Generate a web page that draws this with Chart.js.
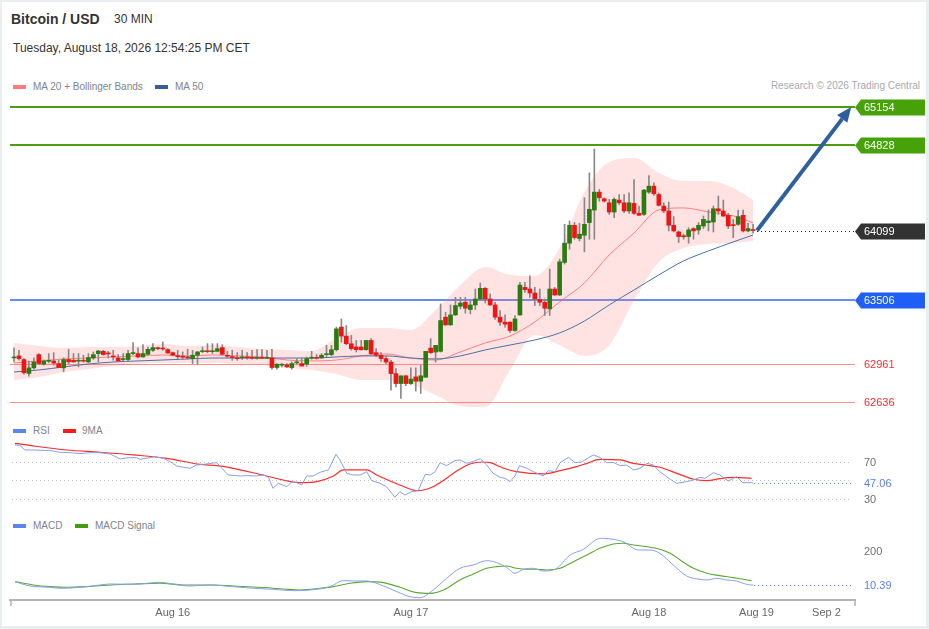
<!DOCTYPE html>
<html lang="en">
<head>
<meta charset="utf-8">
<title>Bitcoin / USD</title>
<script src="https://cdn.jsdelivr.net/npm/chart.js@4.4.1/dist/chart.umd.min.js"></script>
<style>
 html,body{margin:0;padding:0;}
 body{width:929px;height:629px;position:relative;overflow:hidden;background:#e9eff1;font-family:"Liberation Sans",Arial,Helvetica,sans-serif;}
 #card{position:absolute;left:2px;top:2px;width:924px;height:624px;background:#fff;}
 .txt{position:absolute;white-space:nowrap;line-height:1;}
 .sw{position:absolute;height:4px;width:13px;}
 canvas{position:absolute;left:0;}
</style>
</head>
<body>
<div id="card"></div>
<div class="txt" style="left:11px;top:12px;font-size:14px;font-weight:bold;color:#333;">Bitcoin / USD</div>
<div class="txt" style="left:114px;top:13px;font-size:12px;color:#333;">30 MIN</div>
<div class="txt" style="left:13px;top:42px;font-size:12px;color:#333;">Tuesday, August 18, 2026 12:54:25 PM CET</div>
<div class="sw" style="left:13px;top:85px;background:#ff7a7a;"></div>
<div class="txt" style="left:33px;top:82px;font-size:10px;color:#80848c;">MA 20 + Bollinger Bands</div>
<div class="sw" style="left:155px;top:85px;background:#3a5f9e;"></div>
<div class="txt" style="left:175px;top:82px;font-size:10px;color:#80848c;">MA 50</div>
<div class="txt" style="right:9px;top:81px;font-size:10px;color:#a6a9ae;">Research © 2026 Trading Central</div>
<canvas id="priceChart" width="929" height="325" style="top:95px;width:929px;height:325px;"></canvas>
<div class="sw" style="left:13px;top:429px;background:#5b84ee;"></div>
<div class="txt" style="left:33px;top:426px;font-size:10px;color:#80848c;">RSI</div>
<div class="sw" style="left:63px;top:429px;background:#ff1a1a;"></div>
<div class="txt" style="left:82px;top:426px;font-size:10px;color:#80848c;">9MA</div>
<canvas id="rsiChart" width="929" height="67" style="top:438px;width:929px;height:67px;"></canvas>
<div class="sw" style="left:13px;top:524px;background:#5b84ee;"></div>
<div class="txt" style="left:33px;top:521px;font-size:10px;color:#80848c;">MACD</div>
<div class="sw" style="left:75px;top:524px;background:#3f9e12;"></div>
<div class="txt" style="left:95px;top:521px;font-size:10px;color:#80848c;">MACD Signal</div>
<canvas id="macdChart" width="929" height="99" style="top:530px;width:929px;height:99px;"></canvas>
<script>
// ---------- DATA ----------
const opens = [63012,63029,62998,62879,62927,63040,62958,62983,62986,62964,
 62927,62998,62992,62984,62986,62978,63012,63049,63068,63049,
 63022,63012,62998,62998,63049,63049,63020,63043,63077,63094,
 63091,63083,63057,63026,63020,63018,63006,63035,63065,63068,
 63065,63068,63100,63029,63020,63009,63012,63015,63012,63009,
 63012,63009,63012,62930,62950,62953,62930,62970,62964,62958,
 63009,63012,63012,63040,63040,63082,63275,63198,63133,63105,
 63105,63082,63161,63057,63034,63006,62977,62878,62793,62859,
 62793,62850,62813,62847,63096,63062,63068,63360,63294,63379,
 63453,63487,63425,63464,63515,63606,63515,63464,63360,63317,
 63317,63246,63379,63614,63600,63566,63510,63487,63430,63600,
 63549,63827,63991,64144,64031,64059,64167,64274,64427,64370,
 64336,64257,64359,64336,64266,64331,64246,64237,64427,64478,
 64407,64308,64266,64144,64087,64050,64048,64116,64104,64138,
 64167,64172,64285,64266,64229,64144,64152,64229,64096,64104];
const highs = [63097,63077,63006,62984,63012,63049,62995,63049,63057,62992,
 63012,63085,63049,63049,63035,63049,63063,63077,63077,63068,
 63077,63040,63049,63077,63142,63097,63125,63105,63134,63105,
 63148,63091,63063,63077,63063,63085,63077,63068,63105,63134,
 63134,63134,63125,63068,63077,63057,63077,63057,63077,63082,
 63082,63077,63085,62964,62964,62964,62978,63006,63012,63020,
 63068,63040,63049,63120,63119,63275,63345,63289,63204,63161,
 63161,63161,63176,63091,63057,63028,62992,62921,62860,62864,
 62927,62927,62949,63068,63176,63119,63473,63402,63465,63529,
 63529,63529,63501,63600,63651,63614,63558,63487,63416,63379,
 63323,63374,63657,63657,63713,63614,63600,63515,63770,63614,
 63855,64152,64181,64167,64161,64379,64591,64795,64450,64379,
 64365,64379,64407,64407,64421,64534,64308,64450,64568,64506,
 64421,64336,64342,64218,64096,64068,64124,64124,64167,64223,
 64274,64308,64393,64359,64246,64195,64274,64274,64161,64152];
const lows = [62978,62992,62873,62856,62916,62955,62950,62970,62950,62930,
 62893,62964,62975,62936,62975,62970,63000,62978,63035,63012,
 62992,62986,62989,62989,63040,63012,63020,63035,63068,63082,
 63077,63049,63029,63006,63006,63001,62964,62956,63057,63057,
 63049,63063,63035,63012,62992,62992,62998,63001,63001,63001,
 63006,63006,62916,62916,62936,62930,62916,62955,62950,62941,
 63001,63001,63006,63020,63029,63070,63147,63125,63077,63062,
 63077,63077,63040,63020,62983,62963,62737,62765,62666,62774,
 62785,62729,62709,62847,63048,62977,63062,63289,63289,63374,
 63430,63394,63388,63425,63510,63481,63459,63340,63289,63275,
 63227,63238,63374,63572,63529,63459,63459,63374,63374,63544,
 63544,63813,63940,64025,64011,63917,64025,64025,64350,64342,
 64237,64209,64322,64251,64246,64237,64229,64229,64416,64399,
 64308,64251,64096,64087,63997,64025,63991,64025,64068,64116,
 64096,64087,64237,64218,64116,64039,64144,64087,64087,64076];
const closes = [63015,63006,62885,62927,62978,62964,62986,62984,62967,62930,
 62998,62978,62978,62986,62984,63015,63040,63071,63040,63046,
 63020,62986,63001,63049,63051,63020,63049,63085,63100,63091,
 63088,63054,63035,63022,63018,63012,63035,63063,63068,63065,
 63068,63091,63043,63026,63015,63006,63015,63012,63009,63012,
 63009,63015,62930,62958,62953,62936,62964,62973,62942,63006,
 63012,63009,63035,63043,63082,63260,63198,63133,63091,63082,
 63082,63161,63048,63034,63006,62977,62878,62793,62859,62793,
 62831,62813,62859,63068,63057,63119,63331,63294,63379,63459,
 63481,63436,63464,63515,63606,63515,63464,63360,63317,63300,
 63246,63345,63634,63595,63566,63515,63487,63436,63600,63549,
 63832,63991,64144,64039,64068,64152,64280,64427,64379,64350,
 64257,64365,64336,64266,64336,64246,64229,64444,64478,64413,
 64314,64266,64144,64096,64048,64046,64104,64096,64144,64195,
 64181,64285,64266,64223,64138,64141,64218,64096,64116,64099];

// Moving averages and Bollinger bands, read at every 5th candle
const bandIdx = [0,5,10,15,20,25,30,35,40,45,50,55,60,65,70,75,80,85,90,95,100,105,110,115,120,125,130,135,140,145,149];
const bbUpper = [63140,63114,63097,63105,63105,63114,63131,63114,63122,63105,63088,63080,63071,63182,63268,63268,63250,63421,63635,63788,63720,63711,63950,64428,64685,64719,64591,64522,64522,64463,64360];
const bbLower = [62824,62849,62892,62918,62943,62960,62969,62969,62969,62960,62952,62926,62909,62875,62824,62824,62790,62696,62602,62593,62909,63208,63122,63029,63122,63507,63831,63950,63985,63993,64010];
const ma20 = [62969,62986,63003,63011,63020,63029,63037,63029,63037,63029,63020,62994,62986,62994,63029,63046,63011,62994,63063,63140,63199,63319,63490,63652,63891,64078,64275,64292,64258,64224,64164];
const ma50 = [62892,62909,62935,62960,62977,62986,62994,63003,63011,63011,63011,63011,63011,63020,63029,63029,63011,63003,63029,63080,63122,63165,63225,63327,63464,63592,63720,63840,63925,64002,64061];

// Key levels
const levelValues = [65154, 64828, 63506, 62961, 62636];
const levelTypes = ['resistance','resistance','pivot','support','support'];
const lastPrice = 64099;
const targetPrice = 65154;
const arrowIdx = [149.8, 168.8];

// RSI
const rsiIdx = [0.2,1.2,2.2,3.9,7.3,9.3,11.3,13.3,15.3,17.3,
 19.4,21.4,23.1,24.7,25.4,27.4,28.4,30.1,31.5,32.8,
 34.1,35.5,36.8,38.2,40.9,41.9,43.2,45.6,46.9,48.9,
 50.3,51.3,52.2,53.3,55.0,56.0,57.0,58.0,59.0,60.3,
 61.7,63.4,64.9,65.7,67.1,68.4,69.8,71.1,72.1,73.8,
 75.1,76.8,77.8,78.8,80.2,81.5,82.9,83.9,84.9,85.9,
 87.2,88.9,89.9,91.3,92.6,94.0,95.3,96.6,98.0,99.0,
 100.0,101.0,101.9,103.4,104.7,106.7,107.7,109.1,110.1,111.8,
 113.1,114.4,116.8,118.1,119.5,120.8,122.2,123.5,124.9,126.2,
 127.6,128.9,130.2,132.3,133.6,135.6,137.0,138.3,139.3,141.0,
 142.3,144.0,145.7,146.9,148.7,149];
const rsiVal = [88.6,88.2,83.1,83.1,82.4,80.6,80.2,79.1,80.2,80.2,
 78.7,73.3,74.7,74.7,72.9,74.7,75.8,74.0,70.4,65.6,
 64.2,63.1,66.7,67.4,69.3,63.1,55.8,54.7,55.1,54.7,
 55.8,53.2,41.2,46.7,43.0,48.5,47.4,44.9,54.7,54.7,
 58.7,61.3,78.4,72.2,57.6,55.8,55.8,59.4,49.6,46.7,
 43.0,31.4,37.6,33.9,37.6,38.7,56.5,55.8,59.4,69.3,
 66.0,71.5,72.2,68.5,70.7,73.6,66.7,57.6,53.2,52.1,
 48.5,54.7,66.0,63.1,59.4,54.7,60.5,59.4,69.3,75.1,
 69.3,70.0,77.7,75.1,69.3,69.6,66.0,66.7,61.3,63.1,
 68.5,66.7,59.4,51.1,46.7,48.5,50.3,53.2,52.1,58.3,
 55.8,49.2,54.0,47.4,47.4,47.06];
const rsiMaIdx = [0.2,3.9,10.6,17.3,24.1,30.8,37.5,40.9,44.2,50.9,
 57.7,61.0,64.4,66.4,71.1,73.1,77.8,81.2,84.5,89.9,
 91.9,94.3,96.0,98.7,101.3,106.7,110.1,113.4,115.5,118.1,
 122.2,124.9,127.6,130.2,133.6,137.0,139.7,142.3,145.0,148.7];
const rsiMaVal = [90.4,87.5,83.1,80.6,77.7,74.0,67.4,66.0,63.1,54.7,
 47.4,48.5,54.7,61.3,61.3,55.8,44.9,38.7,43.0,62.3,
 67.8,70.0,69.3,63.1,59.4,56.9,60.5,64.9,68.5,72.9,
 72.2,68.5,66.4,64.2,57.6,51.1,49.6,51.8,53.2,52.1];
const rsiLast = 47.06;
const rsiGuides = [70, 50, 30];
const rsiAxisLabels = [70, 30];

// MACD
const macdIdx = [0.2,3.2,7.3,9.3,13.3,17.3,19.4,24.1,29.4,32.1,
 35.5,39.5,44.2,48.3,52.3,56.3,59.7,63.7,66.4,69.1,
 71.1,74.5,77.2,79.8,81.9,84.5,87.2,89.9,92.6,95.3,
 97.3,99.3,101.0,102.7,104.7,106.7,109.1,112.1,114.8,117.5,
 118.8,120.8,122.8,125.9,128.2,130.2,132.9,135.6,138.3,139.7,
 141.7,143.7,145.7,147.0,148.7,149];
const macdVal = [29.0,4.8,-2.6,-8.2,-2.6,10.4,16.0,14.1,25.3,16.0,
 4.8,10.4,1.1,-8.2,-13.7,-21.2,-17.5,1.1,34.6,32.7,
 32.7,4.8,-26.8,-54.6,-60.2,-17.5,47.6,103.4,122.0,146.1,
 135.0,109.0,75.5,97.8,103.4,88.5,97.8,177.7,209.3,265.1,
 270.7,265.1,252.1,205.6,205.6,187.0,122.0,60.6,42.0,38.3,
 47.6,38.3,32.7,19.7,10.4,10.39];
const sigIdx = [0.2,3.9,7.3,10.6,14.7,19.4,24.1,29.4,34.1,40.2,
 44.2,49.6,54.3,57.7,61.7,64.4,67.7,71.1,74.5,77.8,
 81.2,83.9,86.6,89.9,92.6,95.3,97.3,99.3,101.3,103.4,
 105.4,107.4,110.1,112.8,115.5,118.1,120.8,122.8,124.9,127.6,
 130.2,132.3,134.3,137.0,139.7,142.3,145.0,147.0,148.7];
const sigVal = [29.0,10.4,1.1,-2.6,1.1,10.4,16.0,19.7,10.4,10.4,
 4.8,-2.6,-11.9,-17.5,-8.2,1.1,19.7,29.0,23.4,-2.6,
 -32.3,-36.1,-17.5,38.3,71.8,103.4,112.7,116.4,103.4,97.8,
 97.8,94.1,103.4,140.5,177.7,214.9,239.1,242.8,233.5,224.2,
 209.3,187.0,149.8,103.4,75.5,62.5,51.3,42.0,34.6];
const macdLast = 10.39;
const macdAxisLabels = [200];

// Time axis (candle index positions of the date labels)
const dateTickIdx = [32, 80, 128, 149.7, 163.8];
const dateTickLabels = ['Aug 16', 'Aug 17', 'Aug 18', 'Aug 19', 'Sep 2'];

// ---------- STYLE ----------
const FONT11 = '11px "Liberation Sans", Arial, sans-serif';
const X_MIN = -0.81, X_MAX = 169.55;
const PAD = {left: 10, right: 74, top: 0, bottom: 0};
const GREEN_BODY = '#2b7b10', RED_BODY = '#f21414', WICK = '#888888';
const LEVEL_STYLE = {
  resistance: {line: '#4c9c0e', width: 2, tag: '#47a20a', text: '#ffffff'},
  pivot: {line: '#3169f0', width: 1.5, tag: '#1f5ff5', text: '#ffffff'},
  support: {line: '#ff8e8e', width: 1, tag: null, text: '#ff2b2b'}
};

Chart.defaults.font.family = '"Liberation Sans", Arial, sans-serif';
Chart.defaults.animation = false;

const pts = (xs, ys) => xs.map((v, i) => ({x: v, y: ys[i]}));
const hiddenX = () => ({type: 'linear', min: X_MIN, max: X_MAX, offset: false, display: false});
const commonPlugins = {legend: {display: false}, tooltip: {enabled: false}};

function drawTag(ctx, xl, xr, yc, fill, color, text) {
  const h = 16, tip = 6;
  if (fill) {
    ctx.fillStyle = fill;
    ctx.beginPath();
    ctx.moveTo(xl, yc);
    ctx.lineTo(xl + tip, yc - h / 2);
    ctx.lineTo(xr, yc - h / 2);
    ctx.lineTo(xr, yc + h / 2);
    ctx.lineTo(xl + tip, yc + h / 2);
    ctx.closePath();
    ctx.fill();
  }
  ctx.fillStyle = color;
  ctx.font = FONT11;
  ctx.textBaseline = 'middle';
  ctx.textAlign = 'left';
  ctx.fillText(text, xl + 9, yc + 0.5);
}

function dottedH(ctx, x0, x1, y, color, dash) {
  ctx.save();
  ctx.strokeStyle = color;
  ctx.lineWidth = 1;
  ctx.setLineDash(dash || [1, 3]);
  ctx.beginPath();
  ctx.moveTo(x0, Math.round(y) + 0.5);
  ctx.lineTo(x1, Math.round(y) + 0.5);
  ctx.stroke();
  ctx.restore();
}

// ---------- PRICE CHART ----------
const idx = opens.map((_, i) => i);
const bodyData = idx.map(i => ({x: i, y: [Math.min(opens[i], closes[i]), Math.max(opens[i], closes[i])]}));
const wickData = idx.map(i => ({x: i, y: [lows[i], highs[i]]}));
const bodyColors = idx.map(i => closes[i] >= opens[i] ? GREEN_BODY : RED_BODY);

const pricePlugin = {
  id: 'priceDecor',
  beforeDatasetsDraw(chart) {
    const {ctx, chartArea: a, scales: {y}} = chart;
    ctx.save();
    levelValues.forEach((v, k) => {
      const st = LEVEL_STYLE[levelTypes[k]];
      const py = Math.round(y.getPixelForValue(v)) + (st.width === 1 ? 0.5 : 0);
      ctx.strokeStyle = st.line;
      ctx.lineWidth = st.width;
      ctx.beginPath();
      ctx.moveTo(a.left, py);
      ctx.lineTo(a.right, py);
      ctx.stroke();
    });
    ctx.restore();
  },
  afterDatasetsDraw(chart) {
    const {ctx, chartArea: a, scales: {x, y}} = chart;
    const x0 = x.getPixelForValue(arrowIdx[0]), y0 = y.getPixelForValue(lastPrice);
    const x1 = x.getPixelForValue(arrowIdx[1]), y1 = y.getPixelForValue(targetPrice);
    dottedH(ctx, x0, a.right, y0, '#222', [1, 3]);
    const ang = Math.atan2(y1 - y0, x1 - x0);
    const headLen = 15, headW = 6.5;
    const bx = x1 - headLen * Math.cos(ang), by = y1 - headLen * Math.sin(ang);
    ctx.save();
    ctx.strokeStyle = '#2e5f9e';
    ctx.fillStyle = '#2e5f9e';
    ctx.lineWidth = 4;
    ctx.beginPath();
    ctx.moveTo(x0, y0);
    ctx.lineTo(bx, by);
    ctx.stroke();
    ctx.beginPath();
    ctx.moveTo(x1, y1);
    ctx.lineTo(bx + headW * Math.sin(ang), by - headW * Math.cos(ang));
    ctx.lineTo(bx - headW * Math.sin(ang), by + headW * Math.cos(ang));
    ctx.closePath();
    ctx.fill();
    ctx.restore();
  },
  afterDraw(chart) {
    const {ctx, chartArea: a, scales: {y}} = chart;
    const xr = chart.width - 4;
    ctx.save();
    levelValues.forEach((v, k) => {
      const st = LEVEL_STYLE[levelTypes[k]];
      drawTag(ctx, a.right, xr, Math.round(y.getPixelForValue(v)) + 0.5, st.tag, st.text, String(v));
    });
    drawTag(ctx, a.right, xr, Math.round(y.getPixelForValue(lastPrice)) + 0.5, '#333333', '#ffffff', String(lastPrice));
    ctx.restore();
  }
};

const lineDs = (data, color, width, order) => ({
  type: 'line', data, borderColor: color, borderWidth: width, pointRadius: 0, pointHoverRadius: 0,
  fill: false, cubicInterpolationMode: 'monotone', order
});

new Chart(document.getElementById('priceChart'), {
  type: 'bar',
  data: {
    datasets: [
      {type: 'bar', data: bodyData, backgroundColor: bodyColors, borderWidth: 0, barThickness: 4, minBarLength: 1, grouped: false, order: 0},
      {type: 'bar', data: wickData, backgroundColor: WICK, borderWidth: 0, barThickness: 1, grouped: false, order: 1},
      lineDs(pts(bandIdx, ma50), '#4a6fa8', 1, 2),
      lineDs(pts(bandIdx, ma20), 'rgba(255,95,95,0.75)', 1, 3),
      {type: 'line', data: pts(bandIdx, bbUpper), borderWidth: 0, borderColor: 'rgba(0,0,0,0)', pointRadius: 0, pointHoverRadius: 0,
       fill: '+1', backgroundColor: 'rgba(255,110,110,0.2)', cubicInterpolationMode: 'monotone', order: 4},
      {type: 'line', data: pts(bandIdx, bbLower), borderWidth: 0, borderColor: 'rgba(0,0,0,0)', pointRadius: 0, pointHoverRadius: 0,
       fill: false, cubicInterpolationMode: 'monotone', order: 5}
    ]
  },
  options: {
    responsive: false,
    animation: false,
    layout: {padding: PAD, autoPadding: false},
    plugins: commonPlugins,
    scales: {
      x: hiddenX(),
      y: {type: 'linear', min: 62482, max: 65256, display: false, beginAtZero: false}
    }
  },
  plugins: [pricePlugin]
});

// ---------- RSI CHART ----------
const rsiPlugin = {
  id: 'rsiDecor',
  beforeDatasetsDraw(chart) {
    const {ctx, chartArea: a, scales: {y}} = chart;
    rsiGuides.forEach(v => dottedH(ctx, a.left + 2, a.right - 3, y.getPixelForValue(v), '#c2c2c2', [1, 3]));
  },
  afterDraw(chart) {
    const {ctx, chartArea: a, scales: {x, y}} = chart;
    ctx.save();
    ctx.font = FONT11;
    ctx.textBaseline = 'middle';
    ctx.textAlign = 'left';
    ctx.fillStyle = '#6f6f6f';
    rsiAxisLabels.forEach(v => ctx.fillText(String(v), a.right + 9, Math.round(y.getPixelForValue(v)) + 0.5));
    const ly = y.getPixelForValue(rsiLast);
    dottedH(ctx, x.getPixelForValue(rsiIdx[rsiIdx.length - 1]) + 1, a.right - 3, ly, '#5b80e8', [1, 3]);
    ctx.fillStyle = '#5b80e8';
    ctx.fillText(rsiLast.toFixed(2), a.right + 9, Math.round(ly) + 1);
    ctx.restore();
  }
};

new Chart(document.getElementById('rsiChart'), {
  type: 'line',
  data: {
    datasets: [
      {data: pts(rsiIdx, rsiVal), borderColor: '#86a0ea', borderWidth: 1, pointRadius: 0, pointHoverRadius: 0, fill: false, tension: 0},
      {data: pts(rsiMaIdx, rsiMaVal), borderColor: '#ff2a2a', borderWidth: 1.2, pointRadius: 0, pointHoverRadius: 0, fill: false, cubicInterpolationMode: 'monotone'}
    ]
  },
  options: {
    responsive: false,
    animation: false,
    layout: {padding: PAD, autoPadding: false},
    plugins: commonPlugins,
    scales: {
      x: hiddenX(),
      y: {type: 'linear', min: 23.0, max: 96.2, display: false}
    }
  },
  plugins: [rsiPlugin]
});

// ---------- MACD CHART ----------
const macdPlugin = {
  id: 'macdDecor',
  afterDraw(chart) {
    const {ctx, chartArea: a, scales: {x, y}} = chart;
    ctx.save();
    ctx.font = FONT11;
    ctx.textBaseline = 'middle';
    ctx.textAlign = 'left';
    ctx.fillStyle = '#6f6f6f';
    macdAxisLabels.forEach(v => ctx.fillText(String(v), a.right + 9, Math.round(y.getPixelForValue(v)) + 0.5));
    const ly = y.getPixelForValue(macdLast);
    dottedH(ctx, x.getPixelForValue(macdIdx[macdIdx.length - 1]) + 1, a.right - 3, ly, '#5b80e8', [1, 3]);
    ctx.fillStyle = '#5b80e8';
    ctx.fillText(macdLast.toFixed(2), a.right + 9, Math.round(ly) + 1);
    // axis end ticks
    ctx.strokeStyle = '#b0b0b0';
    ctx.lineWidth = 1.5;
    [a.left + 1, a.right].forEach(px => {
      ctx.beginPath();
      ctx.moveTo(px, a.bottom);
      ctx.lineTo(px, a.bottom + 6);
      ctx.stroke();
    });
    ctx.restore();
  }
};

new Chart(document.getElementById('macdChart'), {
  type: 'line',
  data: {
    datasets: [
      {data: pts(macdIdx, macdVal), borderColor: '#86a0ea', borderWidth: 1, pointRadius: 0, pointHoverRadius: 0, fill: false, cubicInterpolationMode: 'monotone'},
      {data: pts(sigIdx, sigVal), borderColor: '#5aa832', borderWidth: 1.1, pointRadius: 0, pointHoverRadius: 0, fill: false, cubicInterpolationMode: 'monotone'}
    ]
  },
  options: {
    responsive: false,
    animation: false,
    layout: {padding: PAD, autoPadding: false},
    plugins: commonPlugins,
    scales: {
      x: {
        type: 'linear', min: X_MIN, max: X_MAX, offset: false, display: true, position: 'bottom',
        grid: {display: false, drawTicks: false},
        border: {display: true, color: '#b4b4b4', width: 2},
        afterBuildTicks: (scale) => { scale.ticks = dateTickIdx.map(v => ({value: v})); },
        afterFit: (scale) => { scale.height = 29; },
        ticks: {
          autoSkip: false, maxRotation: 0, minRotation: 0, padding: 6,
          color: '#666', font: {size: 11},
          callback: (value, index) => dateTickLabels[index]
        }
      },
      y: {type: 'linear', min: -73.3, max: 317.1, display: false}
    }
  },
  plugins: [macdPlugin]
});
</script>
</body>
</html>
